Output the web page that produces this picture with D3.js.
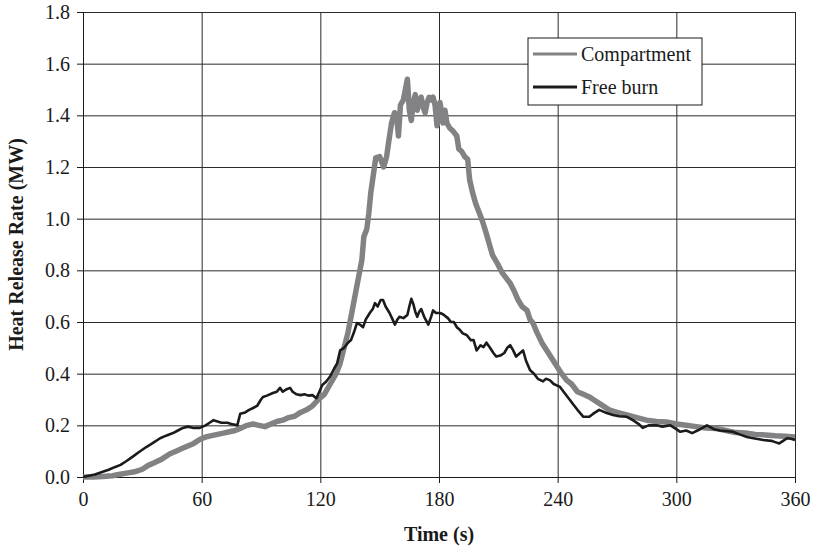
<!DOCTYPE html>
<html>
<head>
<meta charset="utf-8">
<script src="https://cdn.jsdelivr.net/npm/d3@7"></script>
<style>
  body { margin: 0; background: #fff; }
  text { font-family: "Liberation Serif", "Times New Roman", serif; }
</style>
</head>
<body>
<div id="canvas"></div>
<script>
"use strict"

/* Data: time (s) and heat release rate (MW) */
let compTime = [0, 5, 10, 15, 18, 22, 26, 30, 33, 36, 40, 44, 47, 50, 53, 56, 59, 62, 65, 68, 71, 74, 77, 80, 83, 86, 89, 92, 95, 98,
    101, 104, 107, 110, 113, 116, 119, 122, 125, 128, 130, 132, 134, 136, 138, 140, 141, 142, 143.5, 144.5, 145.5, 147, 148, 150,
    151, 152, 153.5, 155, 156, 157.5, 158.5, 159.5, 160.5, 162, 163, 164, 165, 166, 167, 168, 169, 170, 171, 172, 173, 174, 175,
    176, 177, 178, 179, 180, 180.5, 181.5, 182, 183, 184, 185.5, 187, 189, 190, 191.5, 193, 194.5, 195.5, 197, 198.5, 200, 202,
    204, 205.5, 207, 208.5, 210, 212, 214, 216, 218, 220, 222, 224.5, 226, 227.5, 229.5, 232, 234.5, 237, 239.5, 242, 244.5, 247,
    250, 253, 256, 258, 262, 266, 270, 275, 280, 285, 290, 295, 300, 305, 310, 315, 320, 325, 330, 335, 340, 345, 350, 355, 360];
let compHRR = [0, 0, 0.002, 0.005, 0.01, 0.015, 0.02, 0.03, 0.045, 0.055, 0.07, 0.09, 0.1, 0.11, 0.12, 0.13, 0.145, 0.155, 0.16, 0.165,
    0.17, 0.175, 0.18, 0.19, 0.2, 0.205, 0.2, 0.195, 0.205, 0.215, 0.22, 0.23, 0.235, 0.25, 0.26, 0.275, 0.3, 0.32, 0.36, 0.4, 0.44,
    0.5, 0.56, 0.64, 0.72, 0.8, 0.84, 0.93, 0.96, 1.02, 1.1, 1.18, 1.235, 1.24, 1.22, 1.2, 1.24, 1.32, 1.37, 1.41, 1.4, 1.32, 1.44,
    1.46, 1.5, 1.54, 1.42, 1.38, 1.45, 1.48, 1.42, 1.46, 1.47, 1.43, 1.41, 1.45, 1.47, 1.46, 1.47, 1.44, 1.36, 1.42, 1.45, 1.4, 1.37,
    1.42, 1.37, 1.35, 1.34, 1.32, 1.27, 1.26, 1.24, 1.23, 1.15, 1.1, 1.06, 1.03, 0.99, 0.94, 0.9, 0.86, 0.84, 0.82, 0.79, 0.77, 0.75,
    0.72, 0.685, 0.66, 0.645, 0.61, 0.596, 0.56, 0.52, 0.49, 0.46, 0.43, 0.4, 0.375, 0.36, 0.33, 0.32, 0.31, 0.3, 0.28, 0.26, 0.25,
    0.24, 0.23, 0.22, 0.215, 0.213, 0.205, 0.2, 0.195, 0.19, 0.188, 0.18, 0.172, 0.17, 0.165, 0.163, 0.16, 0.158, 0.155];

let freeTime = [0, 3, 6, 10, 13, 16, 19, 22, 25, 28, 32, 35, 39, 42, 45.5, 48, 50.5, 53, 56, 59, 62, 64, 66, 68, 70, 73, 75, 78, 79.5,
    82, 84, 86, 88, 90, 91, 93, 96, 98, 99.6, 101, 103, 104.7, 106, 108, 110, 112, 114, 116, 118, 119.5, 121, 123, 125, 127, 128.5,
    130, 132, 134, 135.5, 137, 138.5, 140, 141.6, 143, 145, 146.5, 147.6, 149, 150.5, 151.7, 153, 155, 156.5, 157.7, 159, 160, 162,
    164, 165, 166, 167, 168, 169, 170, 171, 172.5, 174.6, 176, 177, 178.5, 180.5, 182, 184.5, 186, 187.5, 189, 190.5, 192, 194, 196,
    197.5, 199, 201, 202.5, 204, 205.8, 207.5, 209, 211, 213, 214.5, 216, 217.5, 219, 221, 222.5, 224, 226, 228, 230, 232.6, 234,
    236, 238, 241, 243, 246, 248, 250, 253, 256, 258, 261, 264, 268, 271, 275, 278, 281, 283, 286, 290, 293, 297, 300, 302, 305,
    308, 312, 315.5, 319, 322, 325, 328.6, 332, 335.7, 339, 344, 348, 350, 352, 354, 356, 358, 360];
let freeHRR = [0, 0.005, 0.01, 0.02, 0.028, 0.038, 0.047, 0.062, 0.078, 0.095, 0.116, 0.13, 0.15, 0.16, 0.17, 0.18, 0.19, 0.195,
    0.19, 0.19, 0.2, 0.21, 0.22, 0.215, 0.21, 0.21, 0.205, 0.2, 0.245, 0.25, 0.26, 0.267, 0.275, 0.3, 0.31, 0.315, 0.325, 0.33,
    0.345, 0.33, 0.34, 0.345, 0.33, 0.32, 0.317, 0.32, 0.315, 0.317, 0.305, 0.33, 0.356, 0.37, 0.39, 0.42, 0.44, 0.49, 0.5, 0.52,
    0.53, 0.56, 0.596, 0.59, 0.58, 0.61, 0.635, 0.65, 0.673, 0.66, 0.685, 0.685, 0.66, 0.635, 0.61, 0.59, 0.61, 0.62, 0.615, 0.627,
    0.66, 0.69, 0.67, 0.64, 0.62, 0.64, 0.65, 0.62, 0.59, 0.62, 0.645, 0.635, 0.635, 0.63, 0.615, 0.6, 0.6, 0.58, 0.57, 0.556, 0.55,
    0.53, 0.53, 0.49, 0.51, 0.503, 0.52, 0.5, 0.48, 0.466, 0.47, 0.48, 0.5, 0.51, 0.49, 0.466, 0.48, 0.49, 0.45, 0.414, 0.4, 0.38,
    0.37, 0.38, 0.375, 0.36, 0.35, 0.33, 0.3, 0.28, 0.26, 0.233, 0.233, 0.245, 0.26, 0.25, 0.24, 0.235, 0.233, 0.22, 0.205, 0.19,
    0.2, 0.2, 0.195, 0.2, 0.185, 0.175, 0.18, 0.17, 0.185, 0.2, 0.185, 0.18, 0.178, 0.175, 0.165, 0.155, 0.15, 0.143, 0.14, 0.135,
    0.13, 0.14, 0.15, 0.148, 0.143];

let xTicks = [0, 60, 120, 180, 240, 300, 360];
let yTicks = [0, 0.2, 0.4, 0.6, 0.8, 1.0, 1.2, 1.4, 1.6, 1.8];
let seriesNames = ["Compartment", "Free burn"];
let seriesColors = ["#828285", "#1c1a1a"];

/* Drawing size and plot area */
let svgWidth = 815;
let svgHeight = 549;
let leftMargin = 83;
let rightMargin = 20;
let topMargin = 12;
let bottomMargin = 72;

let svg = d3.select("#canvas")
    .append("svg")
    .attr("width", svgWidth)
    .attr("height", svgHeight);

let xScale = d3.scaleLinear()
    .domain([0, 360])
    .range([leftMargin, svgWidth - rightMargin]);

let yScale = d3.scaleLinear()
    .domain([0, 1.8])
    .range([svgHeight - bottomMargin, topMargin]);

let plotW = svgWidth - rightMargin - leftMargin;
let plotH = svgHeight - bottomMargin - topMargin;

/* grid lines */
svg.append("g")
    .attr("transform", `translate(${leftMargin},0)`)
    .call(d3.axisLeft(yScale).tickValues(yTicks).tickSize(-plotW).tickFormat(""))
    .call(g => g.select(".domain").remove())
    .call(g => g.selectAll("line").attr("stroke", "#2a2a2a").attr("stroke-width", 1));

svg.append("g")
    .attr("transform", `translate(0,${svgHeight - bottomMargin})`)
    .call(d3.axisBottom(xScale).tickValues(xTicks).tickSize(-plotH).tickFormat(""))
    .call(g => g.select(".domain").remove())
    .call(g => g.selectAll("line").attr("stroke", "#2a2a2a").attr("stroke-width", 1));

/* axes with outside ticks */
let yAxis = svg.append("g")
    .attr("transform", `translate(${leftMargin},0)`)
    .call(d3.axisLeft(yScale).tickValues(yTicks).tickSize(6).tickPadding(7).tickFormat(d3.format(".1f")));

let xAxis = svg.append("g")
    .attr("transform", `translate(0,${svgHeight - bottomMargin})`)
    .call(d3.axisBottom(xScale).tickValues(xTicks).tickSize(6).tickPadding(9));

[yAxis, xAxis].forEach(function (g) {
    g.selectAll("path, line").attr("stroke", "#1a1a1a");
    g.selectAll("text")
        .attr("fill", "#1a1a1a")
        .style("font-family", "'Liberation Serif', 'Times New Roman', serif")
        .style("font-size", "20px");
});

/* series lines */
let line = d3.line()
    .x(d => xScale(d[0]))
    .y(d => yScale(d[1]));

let compData = compTime.map((t, i) => [t, compHRR[i]]);
let freeData = freeTime.map((t, i) => [t, freeHRR[i]]);

svg.append("path")
    .datum(compData)
    .attr("fill", "none")
    .attr("stroke", seriesColors[0])
    .attr("stroke-width", 5.5)
    .attr("stroke-linejoin", "round")
    .attr("d", line);

svg.append("path")
    .datum(freeData)
    .attr("fill", "none")
    .attr("stroke", seriesColors[1])
    .attr("stroke-width", 2.6)
    .attr("stroke-linejoin", "round")
    .attr("d", line);

/* axis titles */
svg.append("text")
    .attr("x", xScale(180))
    .attr("y", 541)
    .attr("text-anchor", "middle")
    .attr("font-weight", "bold")
    .attr("font-size", 20)
    .attr("fill", "#1a1a1a")
    .text("Time (s)");

svg.append("text")
    .attr("transform", `translate(23,${(topMargin + svgHeight - bottomMargin) / 2}) rotate(-90)`)
    .attr("text-anchor", "middle")
    .attr("font-weight", "bold")
    .attr("font-size", 20)
    .attr("fill", "#1a1a1a")
    .text("Heat Release Rate (MW)");

/* legend */
svg.append("rect")
    .attr("x", 528)
    .attr("y", 38)
    .attr("width", 174)
    .attr("height", 67)
    .attr("fill", "#fff")
    .attr("stroke", "#1a1a1a")
    .attr("stroke-width", 1);

for (let i = 0; i < 2; i++) {
    svg.append("line")
        .attr("x1", 533)
        .attr("x2", 577)
        .attr("y1", 54 + i * 33)
        .attr("y2", 54 + i * 33)
        .attr("stroke", seriesColors[i])
        .attr("stroke-width", 3);

    svg.append("text")
        .attr("x", 581)
        .attr("y", 61 + i * 33)
        .attr("font-size", 20)
        .attr("fill", "#1a1a1a")
        .text(seriesNames[i]);
}
</script>
</body>
</html>
